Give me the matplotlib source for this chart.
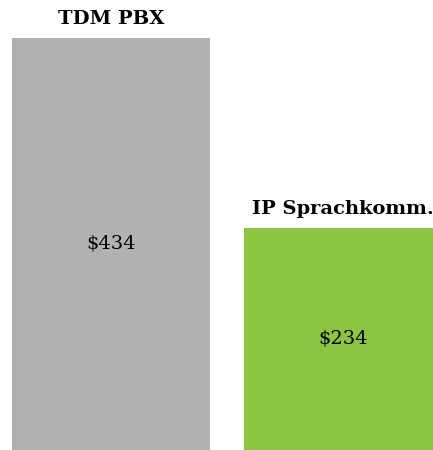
import matplotlib.pyplot as plt

categories = ["TDM PBX", "IP Sprachkomm."]
costs = [434, 234]
value_labels = ["$434", "$234"]
colors = ["#b2b1b2", "#8bc541"]

fig = plt.figure(figsize=(4.33, 4.5), dpi=100)
ax = fig.add_axes([0, 0, 1, 1])

x = list(range(len(categories)))
bars = ax.bar(x, costs, width=0.853, color=colors)

for bar, name, val in zip(bars, categories, value_labels):
    cx = bar.get_x() + bar.get_width() / 2
    h = bar.get_height()
    # category name above the bar
    ax.annotate(name, (cx, h), xytext=(0, 7), textcoords="offset points",
                ha="center", va="bottom", fontsize=14, fontweight="bold",
                family="DejaVu Serif")
    # value in the middle of the bar
    ax.text(cx, h / 2, val, ha="center", va="center", fontsize=14,
            family="DejaVu Serif")

ax.set_xlim(-0.478, 1.388)
ax.set_ylim(0, 474)
ax.axis("off")

fig.savefig("out.png", dpi=100)
